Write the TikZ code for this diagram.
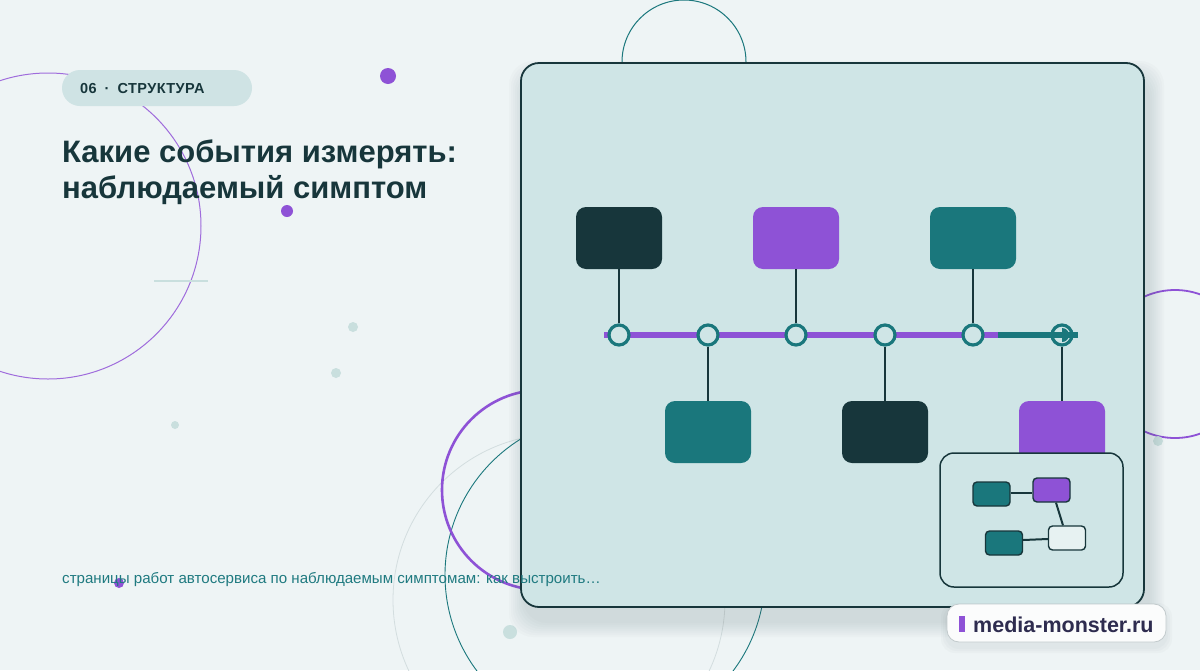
\documentclass[tikz,border=0pt]{standalone}
\usepackage{fontspec}
\setmainfont{Liberation Sans}
\usetikzlibrary{arrows.meta}
\definecolor{bg}{HTML}{EEF4F5}
\definecolor{panelc}{HTML}{CFE5E6}
\definecolor{darkc}{HTML}{17363B}
\definecolor{purp}{HTML}{8E52D6}
\definecolor{tealc}{HTML}{1A777C}
\definecolor{dotc}{HTML}{C9DFDE}
\definecolor{tagc}{HTML}{CFE3E4}
\definecolor{subc}{HTML}{1F7A80}
\definecolor{labc}{HTML}{2E2C4F}
\definecolor{grayc}{HTML}{D3DDDF}
\definecolor{shadc}{HTML}{5A6E72}
\tikzset{
  bigbox/.style={rounded corners=10pt, minimum width=86pt, minimum height=62pt, inner sep=0pt},
  tlnode/.style={circle, draw=tealc, line width=3.2pt, fill=panelc, minimum size=20pt, inner sep=0pt},
  conn/.style={draw=darkc, line width=2.5pt},
  minibox/.style={rounded corners=4pt, draw=darkc, line width=1.4pt, minimum width=37pt, minimum height=24pt, inner sep=0pt},
  miniconn/.style={draw=darkc, line width=2pt},
  lightdot/.style={fill=dotc},
  purpdot/.style={fill=purp},
  shadlayer/.style={fill=shadc, fill opacity=0.025, rounded corners=24pt}
}
\begin{document}
\begin{tikzpicture}[x=1pt,y=-1pt]
\useasboundingbox (0,0) rectangle (1200,670);
\fill[bg] (0,0) rectangle (1200,670);
% background decorative circles
\draw[tealc, line width=1pt] (684,62) circle[radius=62];
\draw[purp!85, line width=1pt] (48,226) circle[radius=153];
\draw[grayc, line width=0.8pt] (559,600) circle[radius=166];
\draw[tealc, line width=0.9pt] (605,575) circle[radius=160];
\draw[purp, line width=2.6pt] (542,490) circle[radius=100];
\draw[purp, line width=1.8pt] (1175,364) circle[radius=74];
\draw[dotc, line width=1.6pt] (154,281) -- (208,281);
% dots
\fill[purpdot] (388,76) circle[radius=8];
\fill[purpdot] (287,211) circle[radius=6];
\fill[lightdot] (353,327) circle[radius=5];
\fill[lightdot] (336,373) circle[radius=5];
\fill[lightdot] (175,425) circle[radius=4];
\fill[lightdot] (510,632) circle[radius=7];
\fill[lightdot] (1158,441) circle[radius=5];
% soft shadow of the panel
\foreach \s in {2,4,...,16} {
  \fill[shadlayer] (521-\s+4,63-\s+14) rectangle (1144+\s+4,607+\s+14);
}
% panel
\node[draw=darkc, line width=1.8pt, fill=panelc, rounded corners=18pt, minimum width=623pt, minimum height=544pt, inner sep=0pt] (panel) at (832.5,335) {};
% boxes
\node[bigbox, fill=darkc] (b1) at (619,238) {};
\node[bigbox, fill=purp] (b3) at (796,238) {};
\node[bigbox, fill=tealc] (b5) at (973,238) {};
\node[bigbox, fill=tealc] (b2) at (708,432) {};
\node[bigbox, fill=darkc] (b4) at (885,432) {};
\node[bigbox, fill=purp] (b6) at (1062,432) {};
% timeline
\coordinate (tstart) at (604,335);
\coordinate (tmid) at (998,335);
\coordinate (tend) at (1078,335);
\draw[purp, line width=6.5pt] (tstart) -- (tmid);
\node[tlnode] (c1) at (619,335) {};
\node[tlnode] (c2) at (708,335) {};
\node[tlnode] (c3) at (796,335) {};
\node[tlnode] (c4) at (885,335) {};
\node[tlnode] (c5) at (973,335) {};
\node[tlnode] (c6) at (1062,335) {};
\fill[tealc] ([shift={(0,7)}]c6.center) arc[start angle=90, end angle=-90, radius=7] -- cycle;
\draw[tealc, line width=6.5pt] (tmid) -- (tend);
\draw[conn] (c1.north) -- (b1.south);
\draw[conn] (c3.north) -- (b3.south);
\draw[conn] (c5.north) -- (b5.south);
\draw[conn] (c2.south) -- (b2.north);
\draw[conn] (c4.south) -- (b4.north);
\draw[conn] (c6.south) -- (b6.north);
% inset
\node[draw=darkc, line width=1.5pt, fill=panelc, rounded corners=14pt, minimum width=183pt, minimum height=134pt, inner sep=0pt] (inset) at (1031.5,520) {};
\node[minibox, fill=tealc] (m1) at (991.5,494) {};
\node[minibox, fill=purp] (m2) at (1051.5,490) {};
\node[minibox, fill=tealc] (m3) at (1004,543) {};
\node[minibox, fill=panelc!50!white] (m4) at (1067,538) {};
\draw[miniconn] ([shift={(0,-1.5)}]m1.east) -- ([shift={(0,2.5)}]m2.west);
\draw[miniconn] ([shift={(4.5,0)}]m2.south) -- ([shift={(-4,0)}]m4.north);
\draw[miniconn] ([shift={(0,-3)}]m3.east) -- ([shift={(0,1)}]m4.west);
% label
\foreach \s in {2,4,6} {
  \fill[shadc, fill opacity=0.03, rounded corners=14pt] (947-\s,604-\s+5) rectangle (1166+\s,642+\s+5);
}
\node[draw=grayc!80!gray, line width=0.8pt, fill=white!75!bg, rounded corners=12pt, minimum width=219pt, minimum height=38pt, inner sep=0pt] (label) at (1056.5,623) {};
\fill[purp] (959,616) rectangle (965,632);
\node[anchor=base west, inner sep=0pt, text=labc, font=\bfseries\fontsize{21.5}{24}\selectfont] (labtext) at (973,632) {media-monster.ru};
% tag
\node[fill=tagc, rounded corners=18pt, minimum width=190pt, minimum height=36pt, inner sep=0pt] (tagpill) at (157,88) {};
\node[anchor=base west, inner sep=0pt, text=darkc, font=\bfseries\fontsize{14.5}{16}\selectfont\addfontfeatures{LetterSpace=3}] (tagtext) at (80,93) {06\hspace{8pt}·\hspace{8pt}СТРУКТУРА};
% title
\node[anchor=base west, inner sep=0pt, text=darkc, font=\bfseries\fontsize{31}{36}\selectfont] (title1) at (62,162) {Какие события измерять:};
\node[anchor=base west, inner sep=0pt, text=darkc, font=\bfseries\fontsize{31}{36}\selectfont] (title2) at (62,198) {наблюдаемый симптом};
% bottom text
\fill[purpdot] (119,583) circle[radius=5];
\node[anchor=base west, inner sep=0pt, text=subc, font=\fontsize{15.1}{18}\selectfont] (sub) at (62,583) {страницы работ автосервиса по наблюдаемым симптомам: как выстроить…};
\end{tikzpicture}
\end{document}
